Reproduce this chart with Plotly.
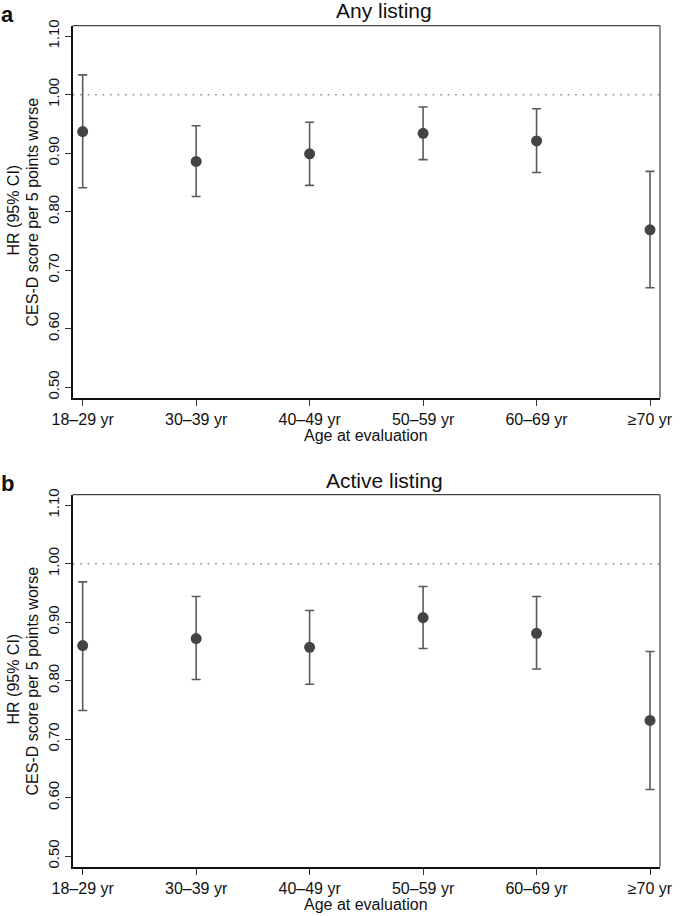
import plotly.graph_objects as go

W, H = 680, 916

categories = ["18–29 yr", "30–39 yr", "40–49 yr", "50–59 yr", "60–69 yr", "≥70 yr"]

any_hr = [0.937, 0.886, 0.899, 0.934, 0.921, 0.769]
any_lo = [0.841, 0.826, 0.845, 0.889, 0.867, 0.670]
any_hi = [1.034, 0.947, 0.953, 0.979, 0.976, 0.869]

act_hr = [0.860, 0.872, 0.857, 0.908, 0.881, 0.732]
act_lo = [0.749, 0.802, 0.794, 0.855, 0.820, 0.614]
act_hi = [0.969, 0.944, 0.920, 0.961, 0.944, 0.850]

y_ticks = [0.50, 0.60, 0.70, 0.80, 0.90, 1.00, 1.10]
y_ticktext = ["0.50", "0.60", "0.70", "0.80", "0.90", "1.00", "1.10"]

FONT = "Liberation Sans, Arial, Helvetica, sans-serif"

def px(x):
    return x / W

def py(y):
    return 1 - y / H

fig = go.Figure()

panels = [
    ("a", "Any listing", any_hr, any_lo, any_hi, 25.7, 397.7),
    ("b", "Active listing", act_hr, act_lo, act_hi, 494.7, 866.7),
]

layout = dict(
    template="none",
    width=W, height=H, margin=dict(l=0, r=0, t=0, b=0, pad=0, autoexpand=False),
    paper_bgcolor="white", plot_bgcolor="white",
    font=dict(family=FONT, color="#111111"),
    annotations=[], shapes=[],
)

x_dom = [px(72.7), px(660)]
for i, (letter, title, hr, lo, hi, top, bot) in enumerate(panels):
    xr = "x" if i == 0 else "x2"
    yr = "y" if i == 0 else "y2"
    fig.add_trace(go.Scatter(
        x=categories, y=hr, mode="markers",
        marker=dict(size=11, color="#444444"),
        error_y=dict(type="data", symmetric=False,
                     array=[h - m for h, m in zip(hi, hr)],
                     arrayminus=[m - l for m, l in zip(hr, lo)],
                     color="#5a5a5a", thickness=1.6, width=4.5),
        xaxis=xr, yaxis=yr, showlegend=False, hoverinfo="skip",
    ))
    xkey = "xaxis" if i == 0 else "xaxis2"
    ykey = "yaxis" if i == 0 else "yaxis2"
    layout[xkey] = dict(
        domain=x_dom, type="category", categoryorder="array", categoryarray=categories,
        range=[-0.088, 5.088], showgrid=False, zeroline=False, automargin=False,
        showline=True, linecolor="#111111", linewidth=1.8, mirror=False,
        ticks="outside", ticklen=6, tickwidth=1.2, tickcolor="#333333",
        tickfont=dict(size=16, family=FONT, color="#111111"),
        anchor=yr, fixedrange=True,
    )
    layout[ykey] = dict(
        domain=[py(bot), py(top)], range=[0.482, 1.118],
        tickvals=y_ticks, ticktext=y_ticktext, tickangle=-90,
        showgrid=False, zeroline=False, automargin=False,
        showline=True, linecolor="#111111", linewidth=1.8,
        ticks="outside", ticklen=6, tickwidth=1.2, tickcolor="#333333",
        tickfont=dict(size=15, family=FONT, color="#111111"),
        anchor=xr, fixedrange=True,
    )
    layout["shapes"].append(dict(type="line", xref=xr + " domain", yref=yr + " domain",
                                 x0=0, x1=1, y0=1, y1=1, line=dict(color="#444444", width=1.2)))
    layout["shapes"].append(dict(type="line", xref=xr + " domain", yref=yr + " domain",
                                 x0=1, x1=1, y0=0, y1=1, line=dict(color="#444444", width=1.2)))
    layout["shapes"].append(dict(type="line", xref=xr + " domain", yref=yr,
                                 x0=0, x1=1, y0=1.0, y1=1.0, layer="below",
                                 line=dict(color="#888888", width=1.5, dash="1.5px,6px")))
    off = top - 25.7
    layout["annotations"].append(dict(text=title, xref="paper", yref="paper",
                                      x=px(384), y=py(11 + off), xanchor="center", yanchor="middle",
                                      showarrow=False, font=dict(size=21, family=FONT, color="#111111")))
    layout["annotations"].append(dict(text="<b>" + letter + "</b>", xref="paper", yref="paper",
                                      x=px(0), y=py(1 + off), xanchor="left", yanchor="top",
                                      borderpad=0,
                                      showarrow=False, font=dict(size=22, family=FONT, color="#111111")))
    layout["annotations"].append(dict(text="Age at evaluation", xref="paper", yref="paper",
                                      x=px(366), y=py(435 + off), xanchor="center", yanchor="middle",
                                      showarrow=False, font=dict(size=16, family=FONT, color="#111111")))
    layout["annotations"].append(dict(text="HR (95% CI)", xref="paper", yref="paper",
                                      x=px(13), y=py(210.5 + off), xanchor="center", yanchor="middle",
                                      textangle=-90, showarrow=False,
                                      font=dict(size=16, family=FONT, color="#111111")))
    layout["annotations"].append(dict(text="CES-D score per 5 points worse", xref="paper", yref="paper",
                                      x=px(32), y=py(212.5 + off), xanchor="center", yanchor="middle",
                                      textangle=-90, showarrow=False,
                                      font=dict(size=16, family=FONT, color="#111111")))

fig.update_layout(**layout)
fig.write_html("out.html", config={"displayModeBar": False},
               post_script="document.body.style.margin='0';document.body.style.overflow='hidden';")
